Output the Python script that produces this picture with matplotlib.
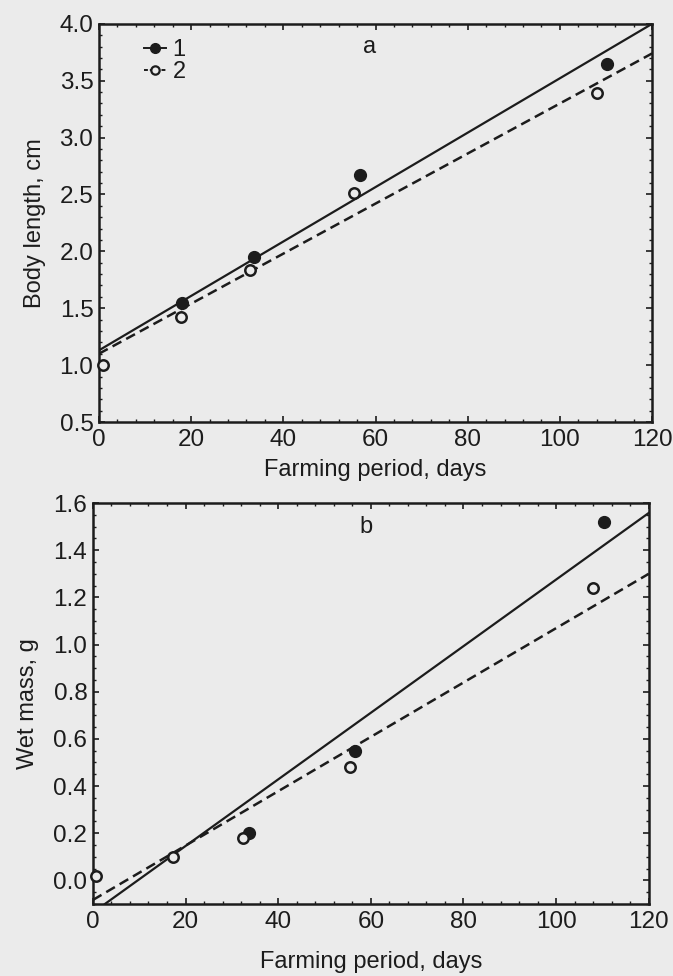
import matplotlib
matplotlib.use("Agg")
import matplotlib.pyplot as plt
from matplotlib.ticker import MultipleLocator
from matplotlib.lines import Line2D

plt.rcParams['font.family'] = ['Liberation Sans', 'DejaVu Sans']

# Panel a: body length, cm
dias_a1 = [18.0, 33.6, 56.6, 110.2]
largo_1 = [1.55, 1.95, 2.67, 3.65]
dias_a2 = [0.8, 17.9, 32.8, 55.4, 108.0]
largo_2 = [1.00, 1.42, 1.84, 2.51, 3.39]
ajuste_x_a = [0, 120]
ajuste_a1 = [1.13, 4.00]
ajuste_a2 = [1.10, 3.74]

# Panel b: wet mass, g
dias_b1 = [33.6, 56.6, 110.3]
masa_1 = [0.20, 0.55, 1.52]
dias_b2 = [0.7, 17.3, 32.5, 55.4, 108.0]
masa_2 = [0.02, 0.10, 0.18, 0.48, 1.24]
ajuste_x_b1 = [2.6, 120]
ajuste_b1 = [-0.10, 1.558]
ajuste_x_b2 = [0, 120]
ajuste_b2 = [-0.083, 1.30]

fondo = '#ebebeb'
tinta = '#1c1c1c'

fig = plt.figure(figsize=(6.73, 9.76), dpi=100, facecolor=fondo)
ax_a = fig.add_axes([0.147, 0.5676, 0.822, 0.408])
ax_b = fig.add_axes([0.138, 0.0738, 0.826, 0.4108])


def estilo(ax, ylim, ymaj, ymin, pad_x):
    """Ejes con marcas hacia dentro en los cuatro lados."""
    ax.set_facecolor(fondo)
    ax.set_xlim(0, 120)
    ax.set_ylim(*ylim)
    ax.xaxis.set_major_locator(MultipleLocator(20))
    ax.xaxis.set_minor_locator(MultipleLocator(4))
    ax.yaxis.set_major_locator(MultipleLocator(ymaj))
    ax.yaxis.set_minor_locator(MultipleLocator(ymin))
    ax.tick_params(which='both', direction='in', top=True, right=True,
                   color=tinta, labelcolor=tinta, labelsize=17.5)
    ax.tick_params(axis='x', pad=5)
    ax.tick_params(axis='y', pad=4)
    ax.tick_params(which='major', length=4, width=1.2)
    ax.tick_params(which='minor', length=2.5, width=1.0)
    for s in ax.spines.values():
        s.set_linewidth(1.8)
        s.set_color(tinta)
    ax.set_xlabel('Farming period, days', fontsize=17, color=tinta,
                  labelpad=pad_x)


def puntos(ax, x1, y1, x2, y2):
    ax.plot(x1, y1, 'o', ms=8.5, color=tinta, clip_on=False, zorder=4)
    ax.plot(x2, y2, 'o', ms=7.5, mfc=fondo, mec=tinta, mew=1.8,
            clip_on=False, zorder=4)


# Panel a
estilo(ax_a, (0.5, 4.0), 0.5, 0.1, 6)
ax_a.yaxis.set_major_formatter('{x:.1f}')
ax_a.plot(ajuste_x_a, ajuste_a1, '-', color=tinta, lw=1.6)
ax_a.plot(ajuste_x_a, ajuste_a2, color=tinta, lw=1.8, ls=(0, (4, 2.2)))
puntos(ax_a, dias_a1, largo_1, dias_a2, largo_2)
ax_a.set_ylabel('Body length, cm', fontsize=17, color=tinta, labelpad=10)
ax_a.text(58.6, 3.80, 'a', fontsize=17, color=tinta, ha='center', va='center')

h1 = Line2D([], [], color=tinta, marker='o', ms=7, lw=1.4)
h2 = Line2D([], [], color=tinta, marker='o', ms=6, mfc=fondo, mew=1.6,
            lw=1.4, ls=(0, (2, 1)))
ley = ax_a.legend([h1, h2], ['1', '2'], loc='upper left',
                  bbox_to_anchor=(0.065, 0.985), frameon=False, fontsize=17,
                  handlelength=0.9, handletextpad=0.3, labelspacing=0.0,
                  borderaxespad=0)
for t in ley.get_texts():
    t.set_color(tinta)

# Panel b
estilo(ax_b, (-0.1, 1.6), 0.2, 0.05, 13)
ax_b.yaxis.set_major_formatter('{x:.1f}')
ax_b.plot(ajuste_x_b1, ajuste_b1, '-', color=tinta, lw=1.6)
ax_b.plot(ajuste_x_b2, ajuste_b2, color=tinta, lw=1.8, ls=(0, (4, 2.2)))
puntos(ax_b, dias_b1, masa_1, dias_b2, masa_2)
ax_b.set_ylabel('Wet mass, g', fontsize=17, color=tinta, labelpad=10)
ax_b.text(59, 1.50, 'b', fontsize=17, color=tinta, ha='center', va='center')

fig.savefig('out.png', dpi=100, facecolor=fondo)
